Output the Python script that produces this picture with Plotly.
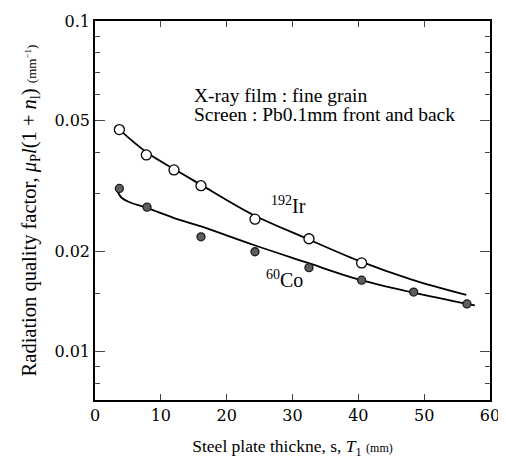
import plotly.graph_objects as go

# Measured points
ir_x = [3.7, 7.8, 12.0, 16.1, 24.3, 32.5, 40.5]
ir_y = [0.0469, 0.0393, 0.0354, 0.0317, 0.0251, 0.0219, 0.0185]
co_x = [3.7, 7.9, 16.1, 24.3, 32.5, 40.5, 48.4, 56.5]
co_y = [0.0311, 0.0273, 0.0222, 0.0200, 0.0179, 0.0164, 0.0151, 0.0139]

# Fitted curves
ir_fit_x = [3.7, 8, 12, 16, 24, 32, 40, 48, 56.4]
ir_fit_y = [0.0469, 0.0398, 0.0356, 0.0320, 0.0259, 0.0220, 0.0188, 0.0165, 0.0148]
co_fit_x = [3.4, 4.0, 5.0, 8, 12, 16, 24, 32, 40, 48, 57.7]
co_fit_y = [0.0305, 0.0292, 0.0284, 0.0271, 0.0253, 0.0239, 0.0210, 0.0186, 0.0165, 0.0151, 0.01376]

x_ticks = [0, 10, 20, 30, 40, 50, 60]
y_ticks = [0.01, 0.02, 0.05, 0.1]
y_tick_text = ["0.01", "0.02", "0.05", "0.1"]
y_minor = [0.008, 0.009, 0.015, 0.03, 0.04, 0.06, 0.07, 0.08, 0.09]

SERIF = "Liberation Serif"
TICKF = "DejaVu Serif"

fig = go.Figure()
fig.add_trace(go.Scatter(x=ir_fit_x, y=ir_fit_y, mode="lines",
                         line=dict(color="black", width=1.8, shape="spline", smoothing=1.0),
                         showlegend=False, hoverinfo="skip"))
fig.add_trace(go.Scatter(x=co_fit_x, y=co_fit_y, mode="lines",
                         line=dict(color="black", width=1.8, shape="spline", smoothing=1.0),
                         showlegend=False, hoverinfo="skip"))
fig.add_trace(go.Scatter(x=ir_x, y=ir_y, mode="markers", name="192Ir",
                         marker=dict(symbol="circle", size=10, color="white",
                                     line=dict(color="black", width=1.3)),
                         showlegend=False))
fig.add_trace(go.Scatter(x=co_x, y=co_y, mode="markers", name="60Co",
                         marker=dict(symbol="circle", size=8, color="#5e5e5e",
                                     line=dict(color="#1a1a1a", width=1.3)),
                         showlegend=False))

ann_font = dict(family=SERIF, size=19.5, color="black")
fig.add_annotation(xref="paper", yref="paper", x=0.245, y=0.803, xanchor="left", yanchor="middle",
                   text="X-ray film : fine grain", showarrow=False, font=ann_font)
fig.add_annotation(xref="paper", yref="paper", x=0.245, y=0.753, xanchor="left", yanchor="middle",
                   text="Screen : Pb0.1mm front and back", showarrow=False, font=ann_font)
fig.add_annotation(xref="paper", yref="paper", x=0.491, y=0.515, xanchor="center", yanchor="middle",
                   text="<sup>192</sup>Ir", showarrow=False,
                   font=dict(family=SERIF, size=20, color="black"))
fig.add_annotation(xref="paper", yref="paper", x=0.481, y=0.318, xanchor="center", yanchor="middle",
                   text="<sup>60</sup>Co", showarrow=False,
                   font=dict(family=SERIF, size=20, color="black"))

fig.update_layout(
    width=506, height=462,
    margin=dict(l=87, r=24, t=13, b=70, autoexpand=False),
    paper_bgcolor="white", plot_bgcolor="white",
    font=dict(family=SERIF, size=17, color="black"),
    xaxis=dict(range=[0, 60], tickvals=x_ticks, ticks="inside", ticklen=6, tickwidth=1,
               showline=True, linecolor="black", linewidth=1.6, mirror="ticks",
               showgrid=False, zeroline=False, automargin=False,
               tickfont=dict(family=TICKF, size=16, color="black"),
               title=dict(text="Steel plate thickne, s, <i>T</i><sub>1</sub> <span style='font-size:12px'>(mm)</span>",
                          font=dict(family=SERIF, size=17.5, color="black"), standoff=16)),
    yaxis=dict(type="log", range=[-2.148, -1], tickvals=y_ticks, ticktext=y_tick_text,
               ticks="inside", ticklen=10, tickwidth=1.2,
               minor=dict(tickvals=y_minor, ticks="inside", ticklen=5, tickwidth=1, showgrid=False),
               showline=True, linecolor="black", linewidth=1.6, mirror="ticks",
               showgrid=False, zeroline=False, automargin=False,
               tickfont=dict(family=TICKF, size=16, color="black"),
               title=dict(text="Radiation quality factor, <i>μ</i><sub>P</sub><i>l</i>(1 + <i>n</i><sub>l</sub>) <span style='font-size:13px'>(mm<sup>−1</sup>)</span>",
                          font=dict(family=SERIF, size=20.5, color="black"), standoff=12)),
)

fig.write_html("out.html")
